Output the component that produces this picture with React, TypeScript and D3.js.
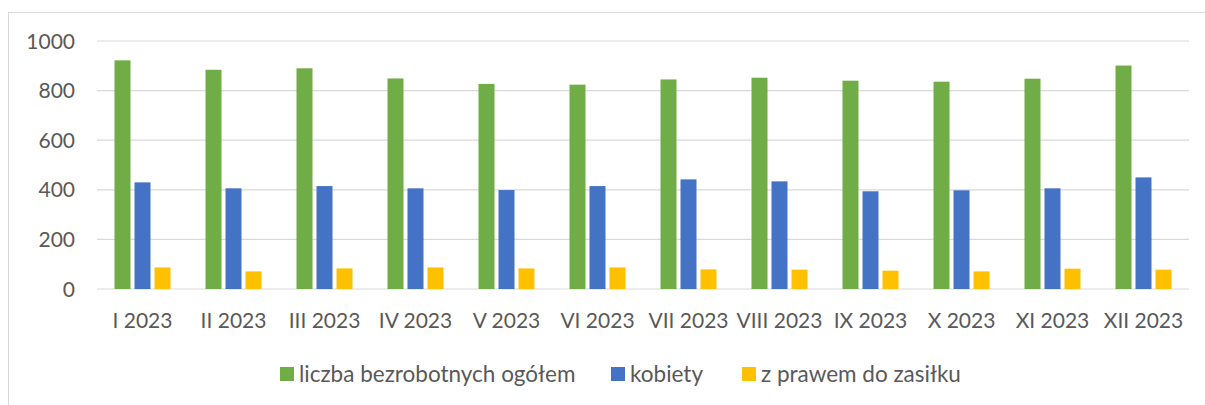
import { useEffect, useRef } from "react";
import * as d3 from "d3";

const months = [
  "I 2023", "II 2023", "III 2023", "IV 2023", "V 2023", "VI 2023",
  "VII 2023", "VIII 2023", "IX 2023", "X 2023", "XI 2023", "XII 2023",
];
const seriesNames = ["liczba bezrobotnych ogółem", "kobiety", "z prawem do zasiłku"];
const total = [922, 884, 890, 849, 827, 824, 845, 852, 840, 836, 848, 901];
const women = [430, 406, 415, 406, 399, 415, 442, 434, 394, 398, 406, 450];
const benefit = [87, 71, 83, 87, 83, 87, 79, 78, 74, 71, 82, 78];
const yTicks = [0, 200, 400, 600, 800, 1000];
const colors = ["#70AD47", "#4472C4", "#FFC000"];

const App = () => {
  const svgRef = useRef<SVGSVGElement>(null);

  useEffect(() => {
    const svg = d3.select(svgRef.current);
    svg.selectAll("*").remove();

    const values = [total, women, benefit];
    const font = "Lato, 'Open Sans', sans-serif";

    // chart frame
    svg
      .append("rect")
      .attr("x", 8.5)
      .attr("y", 12.5)
      .attr("width", 1220)
      .attr("height", 420)
      .attr("fill", "none")
      .attr("stroke", "#d9d9d9");

    // scales
    const x = d3.scaleBand().domain(months).range([97, 1189]);
    const inner = d3
      .scaleBand()
      .domain(seriesNames)
      .range([17.5, x.bandwidth() - 17.5])
      .paddingInner(0.2);
    const y = d3.scaleLinear().domain([0, 1000]).range([289, 41]);

    // grid
    svg
      .append("g")
      .selectAll("line")
      .data(yTicks)
      .enter()
      .append("line")
      .attr("x1", 97)
      .attr("x2", 1189)
      .attr("y1", (d) => y(d))
      .attr("y2", (d) => y(d))
      .attr("stroke", "#d9d9d9")
      .attr("stroke-width", 1.2);

    // y labels
    svg
      .append("g")
      .selectAll("text")
      .data(yTicks)
      .enter()
      .append("text")
      .attr("x", 75)
      .attr("y", (d) => y(d))
      .attr("dy", "0.36em")
      .attr("text-anchor", "end")
      .attr("font-family", font)
      .attr("font-size", 21)
      .attr("fill", "#595959")
      .text((d) => d);

    // x labels
    svg
      .append("g")
      .selectAll("text")
      .data(months)
      .enter()
      .append("text")
      .attr("x", (d) => (x(d) as number) + x.bandwidth() / 2)
      .attr("y", 328)
      .attr("text-anchor", "middle")
      .attr("font-family", font)
      .attr("font-size", 21)
      .attr("fill", "#595959")
      .text((d) => d);

    // bars
    seriesNames.forEach((name, si) => {
      svg
        .append("g")
        .selectAll("rect")
        .data(values[si])
        .enter()
        .append("rect")
        .attr("x", (d, i) => (x(months[i]) as number) + (inner(name) as number))
        .attr("y", (d) => y(d))
        .attr("width", inner.bandwidth())
        .attr("height", (d) => y(0) - y(d))
        .attr("fill", colors[si]);
    });

    // legend
    const legendX = [280, 611, 742];
    const legend = svg
      .append("g")
      .selectAll("g")
      .data(seriesNames)
      .enter()
      .append("g")
      .attr("transform", (d, i) => `translate(${legendX[i]}, 0)`);
    legend
      .append("rect")
      .attr("x", 0)
      .attr("y", 367)
      .attr("width", 14)
      .attr("height", 14)
      .attr("fill", (d, i) => colors[i]);
    legend
      .append("text")
      .attr("x", 19)
      .attr("y", 382)
      .attr("font-family", font)
      .attr("font-size", 22.5)
      .attr("fill", "#595959")
      .text((d) => d);
  }, []);

  return (
    <svg
      ref={svgRef}
      width={1205}
      height={405}
      style={{ position: "absolute", left: 0, top: 0, display: "block" }}
    />
  );
};

export default App;
